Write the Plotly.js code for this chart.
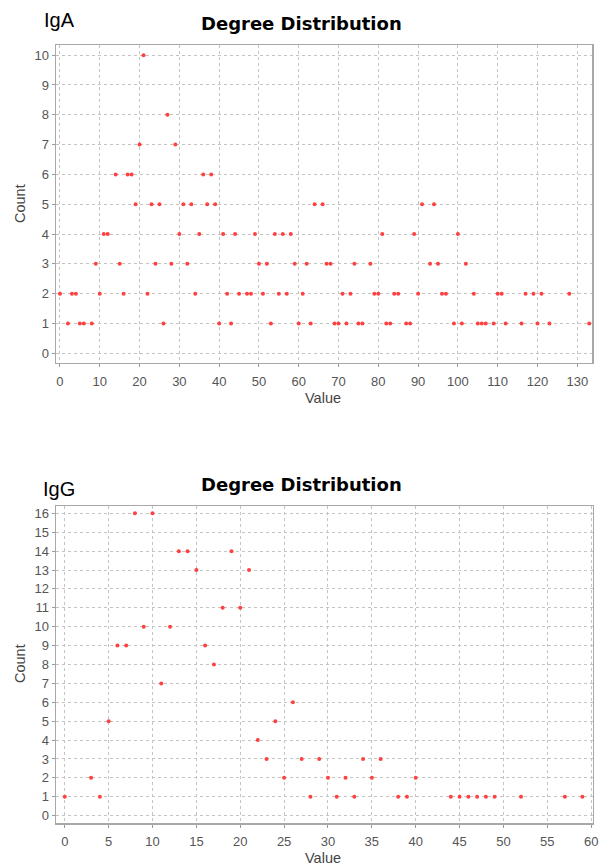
<!DOCTYPE html>
<html>
<head>
<meta charset="utf-8">
<script src="https://cdn.plot.ly/plotly-3.0.1.min.js"></script>
<style>html,body{margin:0;padding:0;background:#fff;}#chart{width:599px;height:865px;}</style>
</head>
<body>
<div id="chart"></div>
<script>
// IgA degree distribution
const igaValue = [0,2,3,4,5,6,8,9,10,11,12,14,15,16,17,18,19,20,21,22,23,24,25,26,27,28,29,30,31,32,33,34,35,36,37,38,39,40,41,42,43,44,45,47,48,49,50,51,52,53,54,55,56,57,58,59,60,61,62,63,64,66,67,68,69,70,71,72,73,74,75,76,78,79,80,81,82,83,84,85,87,88,89,90,91,93,94,95,96,97,99,100,101,102,104,105,106,107,109,110,111,112,116,117,119,120,121,123,128,133];
const igaCount = [2,1,2,2,1,1,1,3,2,4,4,6,3,2,6,6,5,7,10,2,5,3,5,1,8,3,7,4,5,3,5,2,4,6,5,6,5,1,4,2,1,4,2,2,2,4,3,2,3,1,4,2,4,2,4,3,1,2,3,1,5,5,3,3,1,1,2,1,2,3,1,1,3,2,2,4,1,1,2,2,1,1,4,2,5,3,5,3,2,2,1,4,1,3,2,1,1,1,1,2,2,1,1,2,2,1,2,1,2,1];

// IgG degree distribution
const iggValue = [0,3,4,5,6,7,8,9,10,11,12,13,14,15,16,17,18,19,20,21,22,23,24,25,26,27,28,29,30,31,32,33,34,35,36,38,39,40,44,45,46,47,48,49,52,57,59];
const iggCount = [1,2,1,5,9,9,16,10,16,7,10,14,14,13,9,8,11,14,11,13,4,3,5,2,6,3,1,3,2,1,2,1,3,2,3,1,1,2,1,1,1,1,1,1,1,1,1];

const igaYTicks = [0,1,2,3,4,5,6,7,8,9,10];
const iggYTicks = [0,1,2,3,4,5,6,7,8,9,10,11,12,13,14,15,16];

const W = 599, H = 865;
const px = x => x / W;
const py = y => 1 - y / H;

const marker = {color: '#ff4040', size: 4, symbol: 'circle'};

const traces = [
  {x: igaValue, y: igaCount, type: 'scatter', mode: 'markers', marker: marker, xaxis: 'x', yaxis: 'y', name: 'IgA', hoverinfo: 'x+y'},
  {x: iggValue, y: iggCount, type: 'scatter', mode: 'markers', marker: marker, xaxis: 'x2', yaxis: 'y2', name: 'IgG', hoverinfo: 'x+y'}
];

const tickFont = {family: 'Liberation Sans, Arial, sans-serif', size: 13, color: '#555555'};
const axisCommon = {
  showline: true, mirror: true, linecolor: '#a8a8a8', linewidth: 1.5,
  showgrid: true, gridcolor: '#c4c4c4', griddash: 'dot', gridwidth: 1,
  zeroline: false, ticks: 'outside', ticklen: 3, tickcolor: '#9a9a9a',
  tickfont: tickFont, fixedrange: true
};

const titleFont = {family: 'DejaVu Sans, sans-serif', size: 18, color: '#000000', weight: 'bold'};
const labelFont = {family: 'Liberation Sans, Arial, sans-serif', size: 14.5, color: '#444444'};
const panelFont = {family: 'Liberation Sans, Arial, sans-serif', size: 20, color: '#000000'};

const layout = {
  width: W, height: H,
  margin: {l: 0, r: 0, t: 0, b: 0},
  paper_bgcolor: '#ffffff', plot_bgcolor: '#ffffff',
  showlegend: false,
  xaxis: Object.assign({}, axisCommon, {domain: [px(56), px(592)], range: [-1, 133.7], tick0: 0, dtick: 10, anchor: 'y', ticklabelstandoff: 3}),
  yaxis: Object.assign({}, axisCommon, {domain: [py(362.7), py(45)], range: [-0.315, 10.34], tickvals: igaYTicks, anchor: 'x'}),
  xaxis2: Object.assign({}, axisCommon, {domain: [px(56), px(592.5)], range: [-1, 60.15], tick0: 0, dtick: 5, anchor: 'y2', ticklabelstandoff: 3}),
  yaxis2: Object.assign({}, axisCommon, {domain: [py(823), py(506)], range: [-0.39, 16.39], tickvals: iggYTicks, anchor: 'x2'}),
  annotations: [
    {text: 'IgA', xref: 'paper', yref: 'paper', x: px(59), y: py(20), xanchor: 'center', yanchor: 'middle', showarrow: false, font: panelFont},
    {text: 'Degree Distribution', xref: 'paper', yref: 'paper', x: px(301), y: py(23), xanchor: 'center', yanchor: 'middle', showarrow: false, font: titleFont},
    {text: 'Count', xref: 'paper', yref: 'paper', x: px(20), y: py(204), xanchor: 'center', yanchor: 'middle', textangle: -90, showarrow: false, font: labelFont},
    {text: 'Value', xref: 'paper', yref: 'paper', x: px(323), y: py(398), xanchor: 'center', yanchor: 'middle', showarrow: false, font: labelFont},
    {text: 'IgG', xref: 'paper', yref: 'paper', x: px(59), y: py(489), xanchor: 'center', yanchor: 'middle', showarrow: false, font: panelFont},
    {text: 'Degree Distribution', xref: 'paper', yref: 'paper', x: px(301), y: py(484), xanchor: 'center', yanchor: 'middle', showarrow: false, font: titleFont},
    {text: 'Count', xref: 'paper', yref: 'paper', x: px(20), y: py(664), xanchor: 'center', yanchor: 'middle', textangle: -90, showarrow: false, font: labelFont},
    {text: 'Value', xref: 'paper', yref: 'paper', x: px(323), y: py(857.5), xanchor: 'center', yanchor: 'middle', showarrow: false, font: labelFont}
  ]
};

Plotly.newPlot('chart', traces, layout, {displayModeBar: false, staticPlot: true});
</script>
</body>
</html>
